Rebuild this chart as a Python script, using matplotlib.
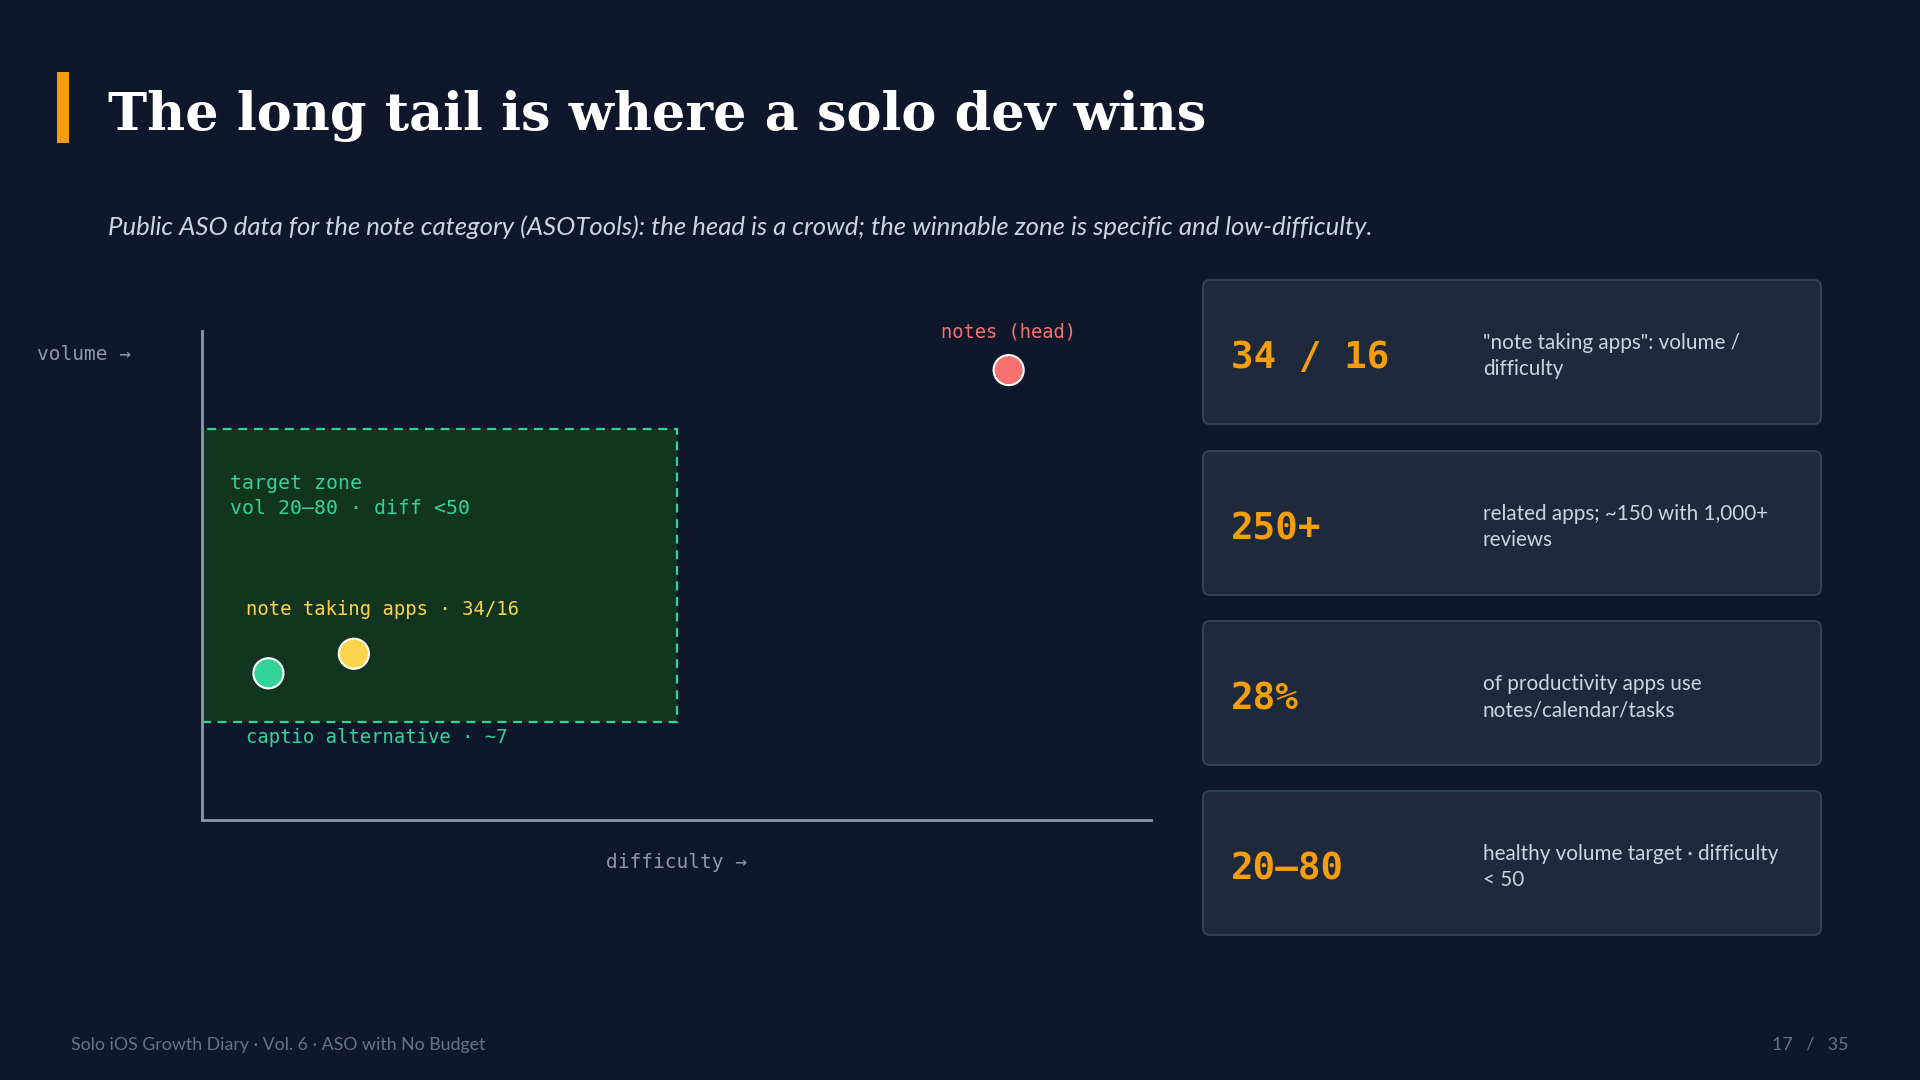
import matplotlib
matplotlib.use("Agg")
import matplotlib.pyplot as plt
from matplotlib.patches import Rectangle, FancyBboxPatch

# ---- data ----
point_names = ["notes (head)", "note taking apps · 34/16", "captio alternative · ~7"]
point_difficulty = [85, 16, 7]
point_volume = [92, 34, 30]
point_colors = ["#f87171", "#fcd34d", "#34d399"]

zone_difficulty = [0, 50]
zone_volume = [20, 80]

card_values = ["34 / 16", "250+", "28%", "20–80"]
card_texts = ['"note taking apps": volume /\ndifficulty',
              "related apps; ~150 with 1,000+\nreviews",
              "of productivity apps use\nnotes/calendar/tasks",
              "healthy volume target · difficulty\n< 50"]

BG = "#0f172a"
W, H = 1920, 1080
fig = plt.figure(figsize=(19.2, 10.8), dpi=100, facecolor=BG)

bg = fig.add_axes([0, 0, 1, 1])
bg.set_xlim(0, W)
bg.set_ylim(H, 0)
bg.axis("off")
bg.set_facecolor(BG)

# title
bg.add_patch(Rectangle((57, 72), 12, 71, color="#f59e0b", lw=0))
bg.text(108, 116, "The long tail is where a solo dev wins", fontsize=37.8,
        family="DejaVu Serif", weight="bold", color="#ffffff", va="center")
bg.text(108, 227, "Public ASO data for the note category (ASOTools): the head is a crowd; "
        "the winnable zone is specific and low-difficulty.",
        fontsize=18.5, family="Lato", style="italic", color="#cbd5e1", va="center")

# footer
bg.text(71, 1045, "Solo iOS Growth Diary · Vol. 6 · ASO with No Budget", fontsize=12.75,
        family="Lato", color="#64748b", va="center")
bg.text(1848, 1045, "17   /   35", fontsize=12.75, family="Lato", color="#64748b",
        va="center", ha="right")

# cards
card_tops = [280, 451, 621, 791]
card_h = 144
for top, val, txt in zip(card_tops, card_values, card_texts):
    bg.add_patch(FancyBboxPatch((1203, top), 618, card_h,
                                boxstyle="round,pad=0,rounding_size=7",
                                facecolor="#1e293b", edgecolor="#334155", lw=1.5))
    cy = top + card_h / 2
    bg.text(1231, cy + 6, val, fontsize=27, family="DejaVu Sans Mono", weight="bold",
            color="#f59e0b", va="center")
    bg.text(1483, cy + 4, txt, fontsize=14.9, family="Lato", color="#cbd5e1",
            va="center", linespacing=1.38)

# chart
x0, x1, yb, yt = 202, 1151, 820, 331
ax = fig.add_axes([x0 / W, (H - yb) / H, (x1 - x0) / W, (yb - yt) / H])
ax.set_facecolor("none")
ax.set_xlim(0, 100)
ax.set_ylim(0, 100)
for s in ["top", "right"]:
    ax.spines[s].set_visible(False)
for s in ["left", "bottom"]:
    ax.spines[s].set_color("#8b98ab")
    ax.spines[s].set_linewidth(2)
    ax.spines[s].set_zorder(5)
ax.set_xticks([])
ax.set_yticks([])

ax.add_patch(Rectangle((zone_difficulty[0], zone_volume[0]),
                       zone_difficulty[1] - zone_difficulty[0],
                       zone_volume[1] - zone_volume[0],
                       facecolor="#12351f", edgecolor="#34d399", lw=1.6,
                       ls=(0, (4, 3)), zorder=1))
mono = "DejaVu Sans Mono"
ax.text(3, 66.2, "target zone\nvol 20–80 · diff <50", fontsize=14.3, family=mono,
        color="#34d399", va="center", linespacing=1.39)

ax.scatter(point_difficulty, point_volume, s=470, c=point_colors,
           edgecolors="white", linewidths=1.5, zorder=4, clip_on=False)

ax.text(point_difficulty[0], 99.7, point_names[0], fontsize=13.5, family=mono,
        color=point_colors[0], ha="center", va="center", clip_on=False)
ax.text(4.6, 43.1, point_names[1], fontsize=13.6, family=mono,
        color=point_colors[1], va="center")
ax.text(4.6, 16.9, point_names[2], fontsize=13.6, family=mono,
        color=point_colors[2], va="center")

bg.text(37, 355, "volume →", fontsize=14, family=mono, color="#8b98ab", va="center")
bg.text(677, 863, "difficulty →", fontsize=14, family=mono, color="#8b98ab",
        va="center", ha="center")

fig.savefig("out.png", dpi=100, facecolor=BG)
